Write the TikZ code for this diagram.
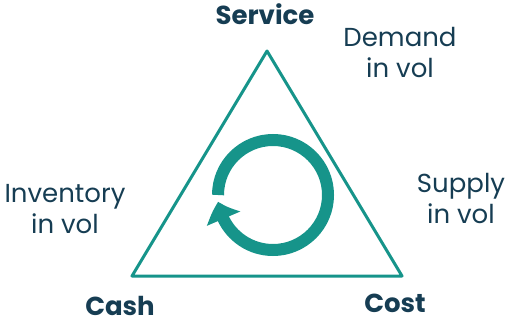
\documentclass[tikz,border=0pt]{standalone}
\usepackage{fontspec}
\setmainfont{Poppins}
\usetikzlibrary{arrows.meta,bending}
\definecolor{teal1}{HTML}{16948A}
\definecolor{navy1}{HTML}{163D53}
\begin{document}
\begin{tikzpicture}[x=1pt,y=-1pt,
  lbl/.style={text=navy1,font=\fontsize{26}{31}\selectfont,align=center,inner sep=0pt,anchor=base},
  blbl/.style={text=navy1,font=\fontsize{26}{31}\selectfont\bfseries,inner sep=0pt,anchor=base},
  edge/.style={draw=teal1,line width=3pt,line join=round}]
\useasboundingbox (0,0) rectangle (510,331);
\coordinate (T) at (267,51);
\coordinate (L) at (132,276);
\coordinate (R) at (402,276);
\draw[edge] (T) -- (L) -- (R) -- cycle;
\coordinate (C) at (273,195);
\draw[draw=teal1,line width=12pt,-{Triangle[length=18pt,width=35pt,bend]}]
  ([shift={(180:55)}]C) arc[start angle=180,end angle=-173,x radius=55,y radius=-55];
\node[blbl] (service) at (265,25) {Service};
\node[blbl] (cash) at (120,315) {Cash};
\node[blbl] (cost) at (395,312) {Cost};
\node[lbl] (demand) at (400,78) {Demand\\in vol};
\node[lbl] (supply) at (461,223) {Supply\\in vol};
\node[lbl] (inventory) at (65,233) {Inventory\\in vol};
\end{tikzpicture}
\end{document}
